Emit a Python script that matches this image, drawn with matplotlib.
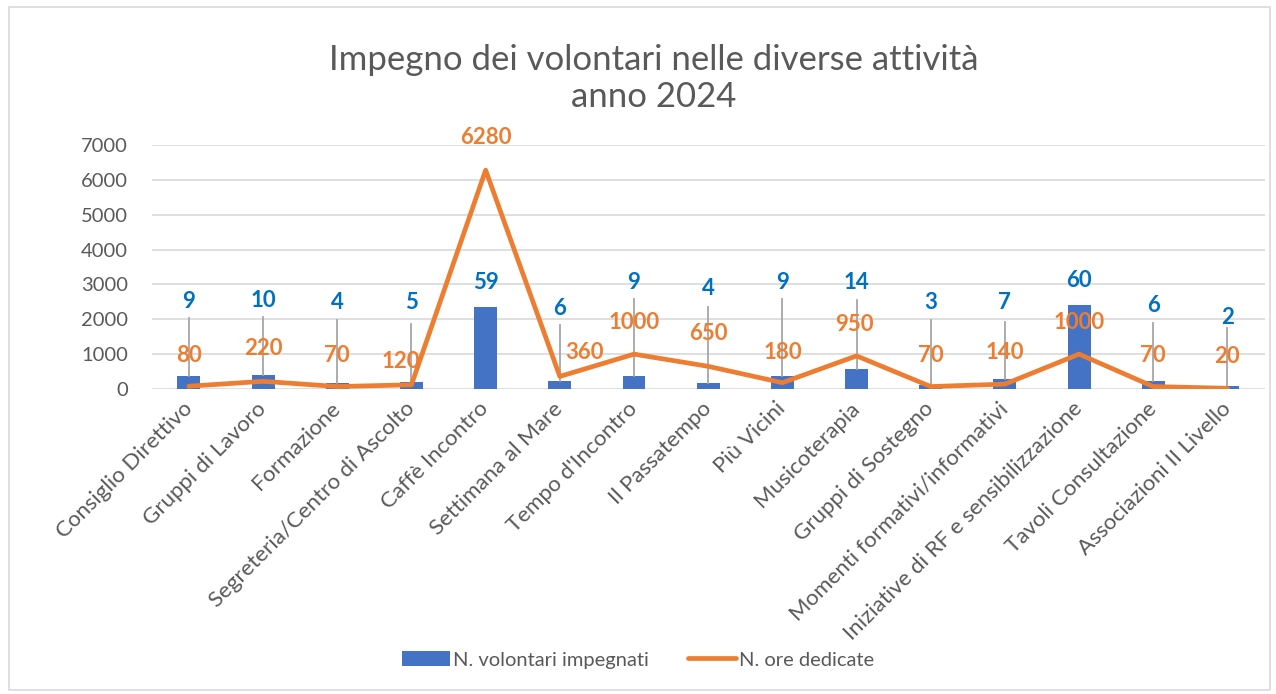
import matplotlib
matplotlib.use("Agg")
import matplotlib.pyplot as plt
from matplotlib.patches import Rectangle, Patch
from matplotlib.lines import Line2D

plt.rcParams['font.family'] = ['Lato', 'DejaVu Sans']

# Data
categories = ["Consiglio Direttivo", "Gruppi di Lavoro", "Formazione",
              "Segreteria/Centro di Ascolto", "Caffè Incontro", "Settimana al Mare",
              "Tempo d'Incontro", "Il Passatempo", "Più Vicini", "Musicoterapia",
              "Gruppi di Sostegno", "Momenti formativi/informativi",
              "Iniziative di RF e sensibilizzazione", "Tavoli Consultazione",
              "Associazioni II Livello"]
volontari = [9, 10, 4, 5, 59, 6, 9, 4, 9, 14, 3, 7, 60, 6, 2]
ore = [80, 220, 70, 120, 6280, 360, 1000, 650, 180, 950, 70, 140, 1000, 70, 20]

# Label placement (primary axis units), as dragged in the original chart
blue_label_y = [2500, 2550, 2470, 2470, 3070, 2320, 3070, 2870, 3070, 3070, 2470, 2470, 3100, 2410, 2040]
leader_top = [2040, 2070, 1980, 1870, None, 1840, 2580, 2350, 2580, 2550, 1980, 1920, None, 1890, 1750]
orange_label_y = [975, 1150, 975, 800, 7230, 1060, 1920, 1580, 1060, 1860, 975, 1060, 1920, 975, 920]
orange_dx = [0, 0, 0, -0.15, 0, 0.33, 0, 0, 0, -0.03, 0, 0, 0, 0, 0]

BLUE = "#4472C4"
ORANGE = "#ED7D31"
LABEL_BLUE = "#0070C0"
GRAY_TXT = "#595959"
GRID = "#D9D9D9"

fig = plt.figure(figsize=(12.76, 6.94), dpi=100)
ax = fig.add_axes([0.119, 0.4395, 0.872, 0.3515])
ax2 = ax.twinx()

x = list(range(len(categories)))

# bars on hidden secondary axis
ax2.bar(x, volontari, width=0.31, color=BLUE, zorder=2)
ax2.set_ylim(0, 175)
ax2.set_yticks([0, 25, 50, 75, 100, 125, 150, 175])
ax2.grid(axis='y', color=GRID, linewidth=1.2, zorder=0)
ax2.set_axisbelow(True)
ax2.tick_params(right=False, labelright=False)
for s in ax2.spines.values():
    s.set_visible(False)

# line on primary axis, drawn on top
ax.set_zorder(ax2.get_zorder() + 1)
ax.patch.set_visible(False)
ax.plot(x, ore, color=ORANGE, linewidth=3.4, solid_joinstyle='round',
        solid_capstyle='round', zorder=4)
ax.set_ylim(0, 7000)
ax.set_xlim(-0.5, len(categories) - 0.5)
ax.set_yticks(range(0, 7001, 1000))
for s in ax.spines.values():
    s.set_visible(False)
ax.tick_params(axis='y', length=0, labelsize=14.5, labelcolor=GRAY_TXT, pad=17)
ax.tick_params(axis='x', length=0, labelsize=16, labelcolor=GRAY_TXT, pad=12)
ax.set_xticks(x)
ax.set_xticklabels(categories, rotation=45, ha='right', va='center',
                   rotation_mode='anchor')

scale = 7000 / 175
for i in x:
    if leader_top[i] is not None:
        ax.plot([i, i], [volontari[i] * scale, leader_top[i]], color="#A6A6A6",
                linewidth=1.3, zorder=3)
    ax.text(i, blue_label_y[i], str(volontari[i]), color=LABEL_BLUE, fontsize=16,
            fontweight='bold', ha='center', va='center', zorder=5)
    ax.text(i + orange_dx[i], orange_label_y[i], str(ore[i]), color=ORANGE,
            fontsize=16, fontweight='bold', ha='center', va='center', zorder=5,
            clip_on=False)

fig.text(0.512, 0.887, "Impegno dei volontari nelle diverse attività\nanno 2024",
         ha='center', va='center', fontsize=25, color=GRAY_TXT, linespacing=1.2)

handles = [Patch(facecolor=BLUE, edgecolor='none'),
           Line2D([0], [0], color=ORANGE, linewidth=3.4, solid_capstyle='round')]
fig.legend(handles, ["N. volontari impegnati", "N. ore dedicate"],
           loc='center', bbox_to_anchor=(0.5, 0.049), ncol=2, frameon=False,
           fontsize=14.5, labelcolor=GRAY_TXT, handlelength=2.4, handletextpad=0.15,
           columnspacing=1.9)

fig.patches.append(Rectangle((0.007, 0.006), 0.988, 0.984, transform=fig.transFigure,
                             fill=False, edgecolor=GRID, linewidth=1.2))

fig.savefig("out.png", dpi=100)
